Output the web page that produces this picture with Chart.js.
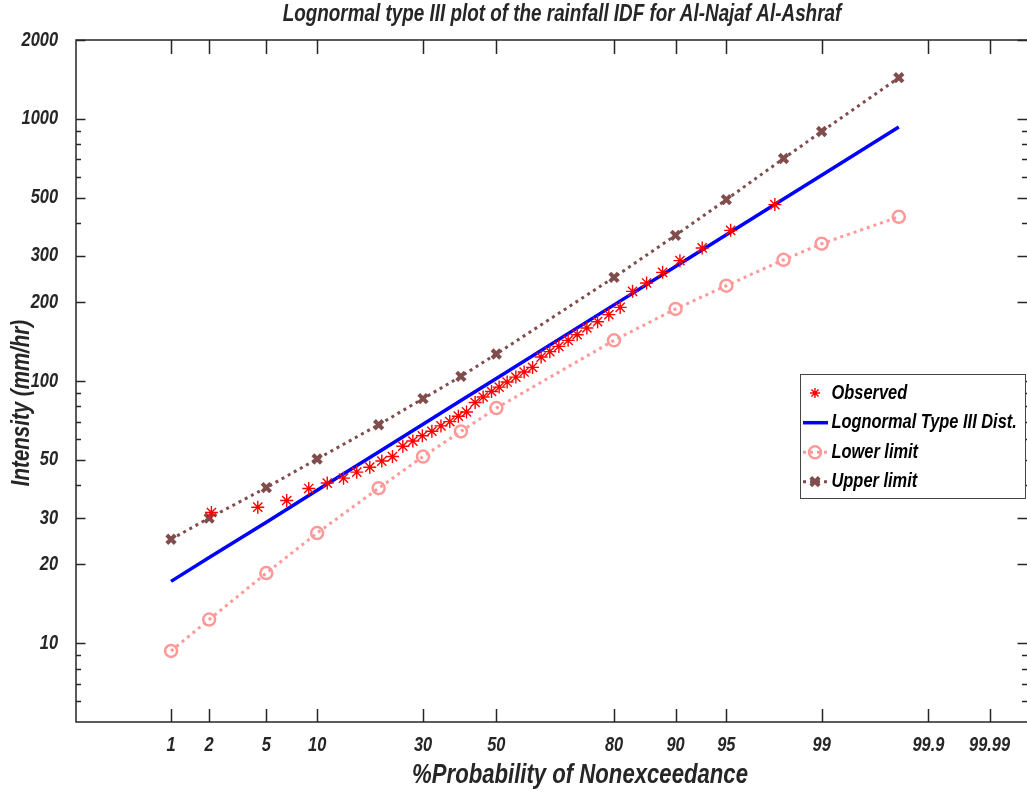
<!DOCTYPE html>
<html>
<head>
<meta charset="utf-8">
<script src="https://cdn.jsdelivr.net/npm/chart.js@4.4.1/dist/chart.umd.min.js"></script>
<style>
  body { margin: 0; background: #fff; }
  canvas { display: block; }
</style>
</head>
<body>
<canvas id="chart_lognormal" width="1027" height="792"></canvas>
<script>
// observed data, plotting positions (% probability of nonexceedance)
var observedProb = [2.08, 4.40, 6.69, 8.99, 11.33, 13.72, 15.91, 18.27, 20.64, 22.88,
  25.18, 27.52, 29.84, 32.24, 34.61, 36.96, 39.29, 41.56, 43.97, 46.24,
  48.63, 50.80, 53.08, 55.55, 57.88, 60.22, 62.57, 64.90, 67.26, 69.62,
  71.84, 74.13, 76.55, 78.95, 81.21, 83.50, 85.87, 88.28, 90.54, 92.95,
  95.31, 97.68];
var observedIntensity = [31.5, 33.0, 35.0, 38.9, 40.8, 42.6, 44.9, 46.9, 49.5, 51.5,
  56.4, 59.0, 61.8, 64.3, 67.4, 70.0, 73.4, 76.2, 82.8, 86.9,
  91.2, 94.8, 99.1, 103.5, 108.2, 112.7, 123.4, 129.4, 135.5, 142.9,
  150.2, 159.4, 168.4, 179.1, 190.9, 219.8, 236.6, 259.7, 287.9, 321.9,
  375.7, 471];

// fitted distribution and confidence limits
var limitProb = [1, 2, 5, 10, 20, 30, 40, 50, 80, 90, 95, 98, 99, 99.8];
var fittedIntensity = [17.2, 21.2, 28.9, 38.3, 53.6, 68.4, 84.3, 102.3, 195.2, 273.6, 361.6, 495, 610, 932];
var lowerLimit = [9.33, 12.3, 18.5, 26.3, 39.0, 51.5, 64.2, 78.8, 142.9, 188.3, 231, 290, 334, 423];
var upperLimit = [24.9, 30.0, 39.2, 50.4, 68.1, 85.6, 104.1, 126.8, 248.6, 359.5, 492, 706, 895, 1436];

// axis ticks
var xTickProb = [1, 2, 5, 10, 30, 50, 80, 90, 95, 99, 99.9, 99.979];
var xTickLabels = ['1', '2', '5', '10', '30', '50', '80', '90', '95', '99', '99.9', '99.99'];
var yMajorTicks = [10, 20, 30, 50, 100, 200, 300, 500, 1000, 2000];
var yMinorTicks = [6, 7, 8, 9, 40, 60, 70, 80, 90, 400, 600, 700, 800, 900];

var FONT = '"Liberation Sans", Arial, sans-serif';
var NARROW = 0.82; // no narrow face installed, squeeze Liberation Sans instead
var AXIS_COLOR = '#262626';

// inverse standard normal CDF (Acklam), for the probability axis
function probit(p) {
  var a = [-3.969683028665376e+01, 2.209460984245205e+02, -2.759285104469687e+02, 1.383577518672690e+02, -3.066479806614716e+01, 2.506628277459239e+00];
  var b = [-5.447609879822406e+01, 1.615858368580409e+02, -1.556989798598866e+02, 6.680131188771972e+01, -1.328068155288572e+01];
  var c = [-7.784894002430293e-03, -3.223964580411365e-01, -2.400758277161838e+00, -2.549732539343734e+00, 4.374664141464968e+00, 2.938163982698783e+00];
  var d = [7.784695709041462e-03, 3.224671290700398e-01, 2.445134137142996e+00, 3.754408661907416e+00];
  var pl = 0.02425, q, r;
  if (p < pl) {
    q = Math.sqrt(-2 * Math.log(p));
    return (((((c[0]*q+c[1])*q+c[2])*q+c[3])*q+c[4])*q+c[5]) / ((((d[0]*q+d[1])*q+d[2])*q+d[3])*q+1);
  }
  if (p > 1 - pl) {
    q = Math.sqrt(-2 * Math.log(1 - p));
    return -(((((c[0]*q+c[1])*q+c[2])*q+c[3])*q+c[4])*q+c[5]) / ((((d[0]*q+d[1])*q+d[2])*q+d[3])*q+1);
  }
  q = p - 0.5; r = q * q;
  return (((((a[0]*r+a[1])*r+a[2])*r+a[3])*r+a[4])*r+a[5])*q / (((((b[0]*r+b[1])*r+b[2])*r+b[3])*r+b[4])*r+1);
}

function toPoints(probs, values) {
  return probs.map(function (p, i) { return { x: probit(p / 100), y: values[i] }; });
}

// condensed italic bold text
function narrowText(ctx, text, x, y, size, align, angle) {
  ctx.save();
  ctx.translate(x, y);
  if (angle) ctx.rotate(angle);
  ctx.scale(NARROW, 1);
  ctx.font = 'italic bold ' + size + 'px ' + FONT;
  ctx.textAlign = align || 'center';
  ctx.textBaseline = 'middle';
  ctx.fillText(text, 0, 0);
  ctx.restore();
}

var datasets = [
  {
    label: 'Observed',
    data: toPoints(observedProb, observedIntensity),
    showLine: false,
    pointStyle: 'star',
    pointRadius: 6.5,
    pointBorderWidth: 1.4,
    borderColor: '#ff0000',
    backgroundColor: '#ff0000'
  },
  {
    label: 'Lognormal Type III Dist.',
    data: toPoints(limitProb, fittedIntensity),
    borderColor: '#0000ff',
    borderWidth: 3.5,
    pointRadius: 0
  },
  {
    label: 'Lower limit',
    data: toPoints(limitProb, lowerLimit),
    borderColor: '#ff9999',
    borderWidth: 3,
    borderDash: [3, 4],
    pointStyle: 'circle',
    pointRadius: 6,
    pointBorderWidth: 2.5,
    pointBackgroundColor: 'rgba(0,0,0,0)'
  },
  {
    label: 'Upper limit',
    data: toPoints(limitProb, upperLimit),
    borderColor: '#804d4d',
    borderWidth: 3,
    borderDash: [3, 4],
    pointStyle: 'crossRot',
    pointRadius: 6,
    pointBorderWidth: 4,
    pointBackgroundColor: '#804d4d'
  }
];

var framePlugin = {
  id: 'frameTicks',
  afterDraw: function (chart) {
    var ctx = chart.ctx, area = chart.chartArea;
    var xs = chart.scales.x, ys = chart.scales.y;
    ctx.save();
    ctx.strokeStyle = AXIS_COLOR;
    ctx.lineWidth = 1.5;
    // box: the right edge falls just outside the picture
    ctx.beginPath();
    ctx.moveTo(area.right + 2, area.top); ctx.lineTo(area.left, area.top);
    ctx.lineTo(area.left, area.bottom); ctx.lineTo(area.right + 2, area.bottom);
    ctx.stroke();
    ctx.beginPath();
    xs.ticks.forEach(function (t) {
      var px = Math.round(xs.getPixelForValue(t.value)) + 0.5;
      ctx.moveTo(px, area.bottom); ctx.lineTo(px, area.bottom - 13);
      ctx.moveTo(px, area.top); ctx.lineTo(px, area.top + 14);
    });
    ys.ticks.forEach(function (t) {
      var py = Math.round(ys.getPixelForValue(t.value)) + 0.5;
      var len = yMajorTicks.indexOf(t.value) >= 0 ? 9.5 : 5;
      ctx.moveTo(area.left, py); ctx.lineTo(area.left + len, py);
      ctx.moveTo(area.right, py); ctx.lineTo(area.right - len, py);
    });
    ctx.stroke();

    // tick labels
    ctx.fillStyle = AXIS_COLOR;
    xs.ticks.forEach(function (t, i) {
      narrowText(ctx, xTickLabels[i], xs.getPixelForValue(t.value), 745, 20, 'center');
    });
    ys.ticks.forEach(function (t) {
      if (yMajorTicks.indexOf(t.value) < 0) return;
      narrowText(ctx, String(t.value), 58, ys.getPixelForValue(t.value), 20, 'right');
    });

    // titles
    narrowText(ctx, 'Lognormal type III plot of the rainfall IDF for Al-Najaf Al-Ashraf', 562, 15, 23, 'center');
    narrowText(ctx, '%Probability of Nonexceedance', 580, 776, 27, 'center');
    narrowText(ctx, 'Intensity (mm/hr)', 22, 403, 25, 'center', -Math.PI / 2);

    // legend
    var lx = 800.5, ly = 374.5, lw = 225, lh = 124;
    ctx.fillStyle = '#ffffff';
    ctx.fillRect(lx, ly, lw, lh);
    ctx.strokeStyle = '#444444';
    ctx.lineWidth = 1;
    ctx.strokeRect(lx, ly, lw, lh);
    var rows = [393, 422.7, 452.3, 481.7];
    chart.data.datasets.forEach(function (ds, i) {
      var y = rows[i];
      ctx.save();
      if (ds.showLine !== false) {
        ctx.strokeStyle = ds.borderColor;
        ctx.lineWidth = ds.borderWidth;
        ctx.setLineDash(ds.borderDash || []);
        ctx.beginPath();
        ctx.moveTo(803, y); ctx.lineTo(828, y);
        ctx.stroke();
        ctx.setLineDash([]);
      }
      if (ds.pointRadius) {
        ctx.strokeStyle = ds.borderColor;
        ctx.fillStyle = ds.pointBackgroundColor || ds.backgroundColor;
        ctx.lineWidth = ds.pointBorderWidth;
        Chart.helpers.drawPoint(ctx, { pointStyle: ds.pointStyle, radius: i === 0 ? 5 : ds.pointRadius, rotation: 0, borderWidth: ds.pointBorderWidth }, 815, y);
      }
      ctx.restore();
      ctx.fillStyle = '#000000';
      narrowText(ctx, ds.label, 831.5, y, 20, 'left');
    });
    ctx.restore();
  }
};

var chart_lognormal = new Chart(document.getElementById('chart_lognormal'), {
  type: 'line',
  data: { datasets: datasets },
  options: {
    animation: false,
    responsive: false,
    layout: { autoPadding: false, padding: { top: 40, left: 0, right: 0, bottom: 0 } },
    plugins: {
      legend: { display: false },
      title: { display: false },
      tooltip: { enabled: false }
    },
    scales: {
      x: {
        type: 'linear',
        min: -3.006,
        max: 3.795,
        grid: { display: false, drawTicks: false },
        border: { display: false },
        afterFit: function (scale) { scale.height = 70; },
        afterBuildTicks: function (scale) {
          scale.ticks = xTickProb.map(function (p) { return { value: probit(p / 100) }; });
        },
        ticks: { display: false, autoSkip: false, maxRotation: 0 }
      },
      y: {
        type: 'logarithmic',
        min: 5,
        max: 2000,
        grid: { display: false, drawTicks: false },
        border: { display: false },
        afterFit: function (scale) { scale.width = 76; },
        afterBuildTicks: function (scale) {
          scale.ticks = yMajorTicks.concat(yMinorTicks).sort(function (a, b) { return a - b; })
            .map(function (v) { return { value: v }; });
        },
        ticks: { display: false, autoSkip: false }
      }
    }
  },
  plugins: [framePlugin, {
    id: 'whiteBackground',
    beforeDraw: function (chart) {
      var ctx = chart.ctx;
      ctx.save();
      ctx.fillStyle = 'white';
      ctx.fillRect(0, 0, chart.width, chart.height);
      ctx.restore();
    }
  }]
});
</script>
</body>
</html>
